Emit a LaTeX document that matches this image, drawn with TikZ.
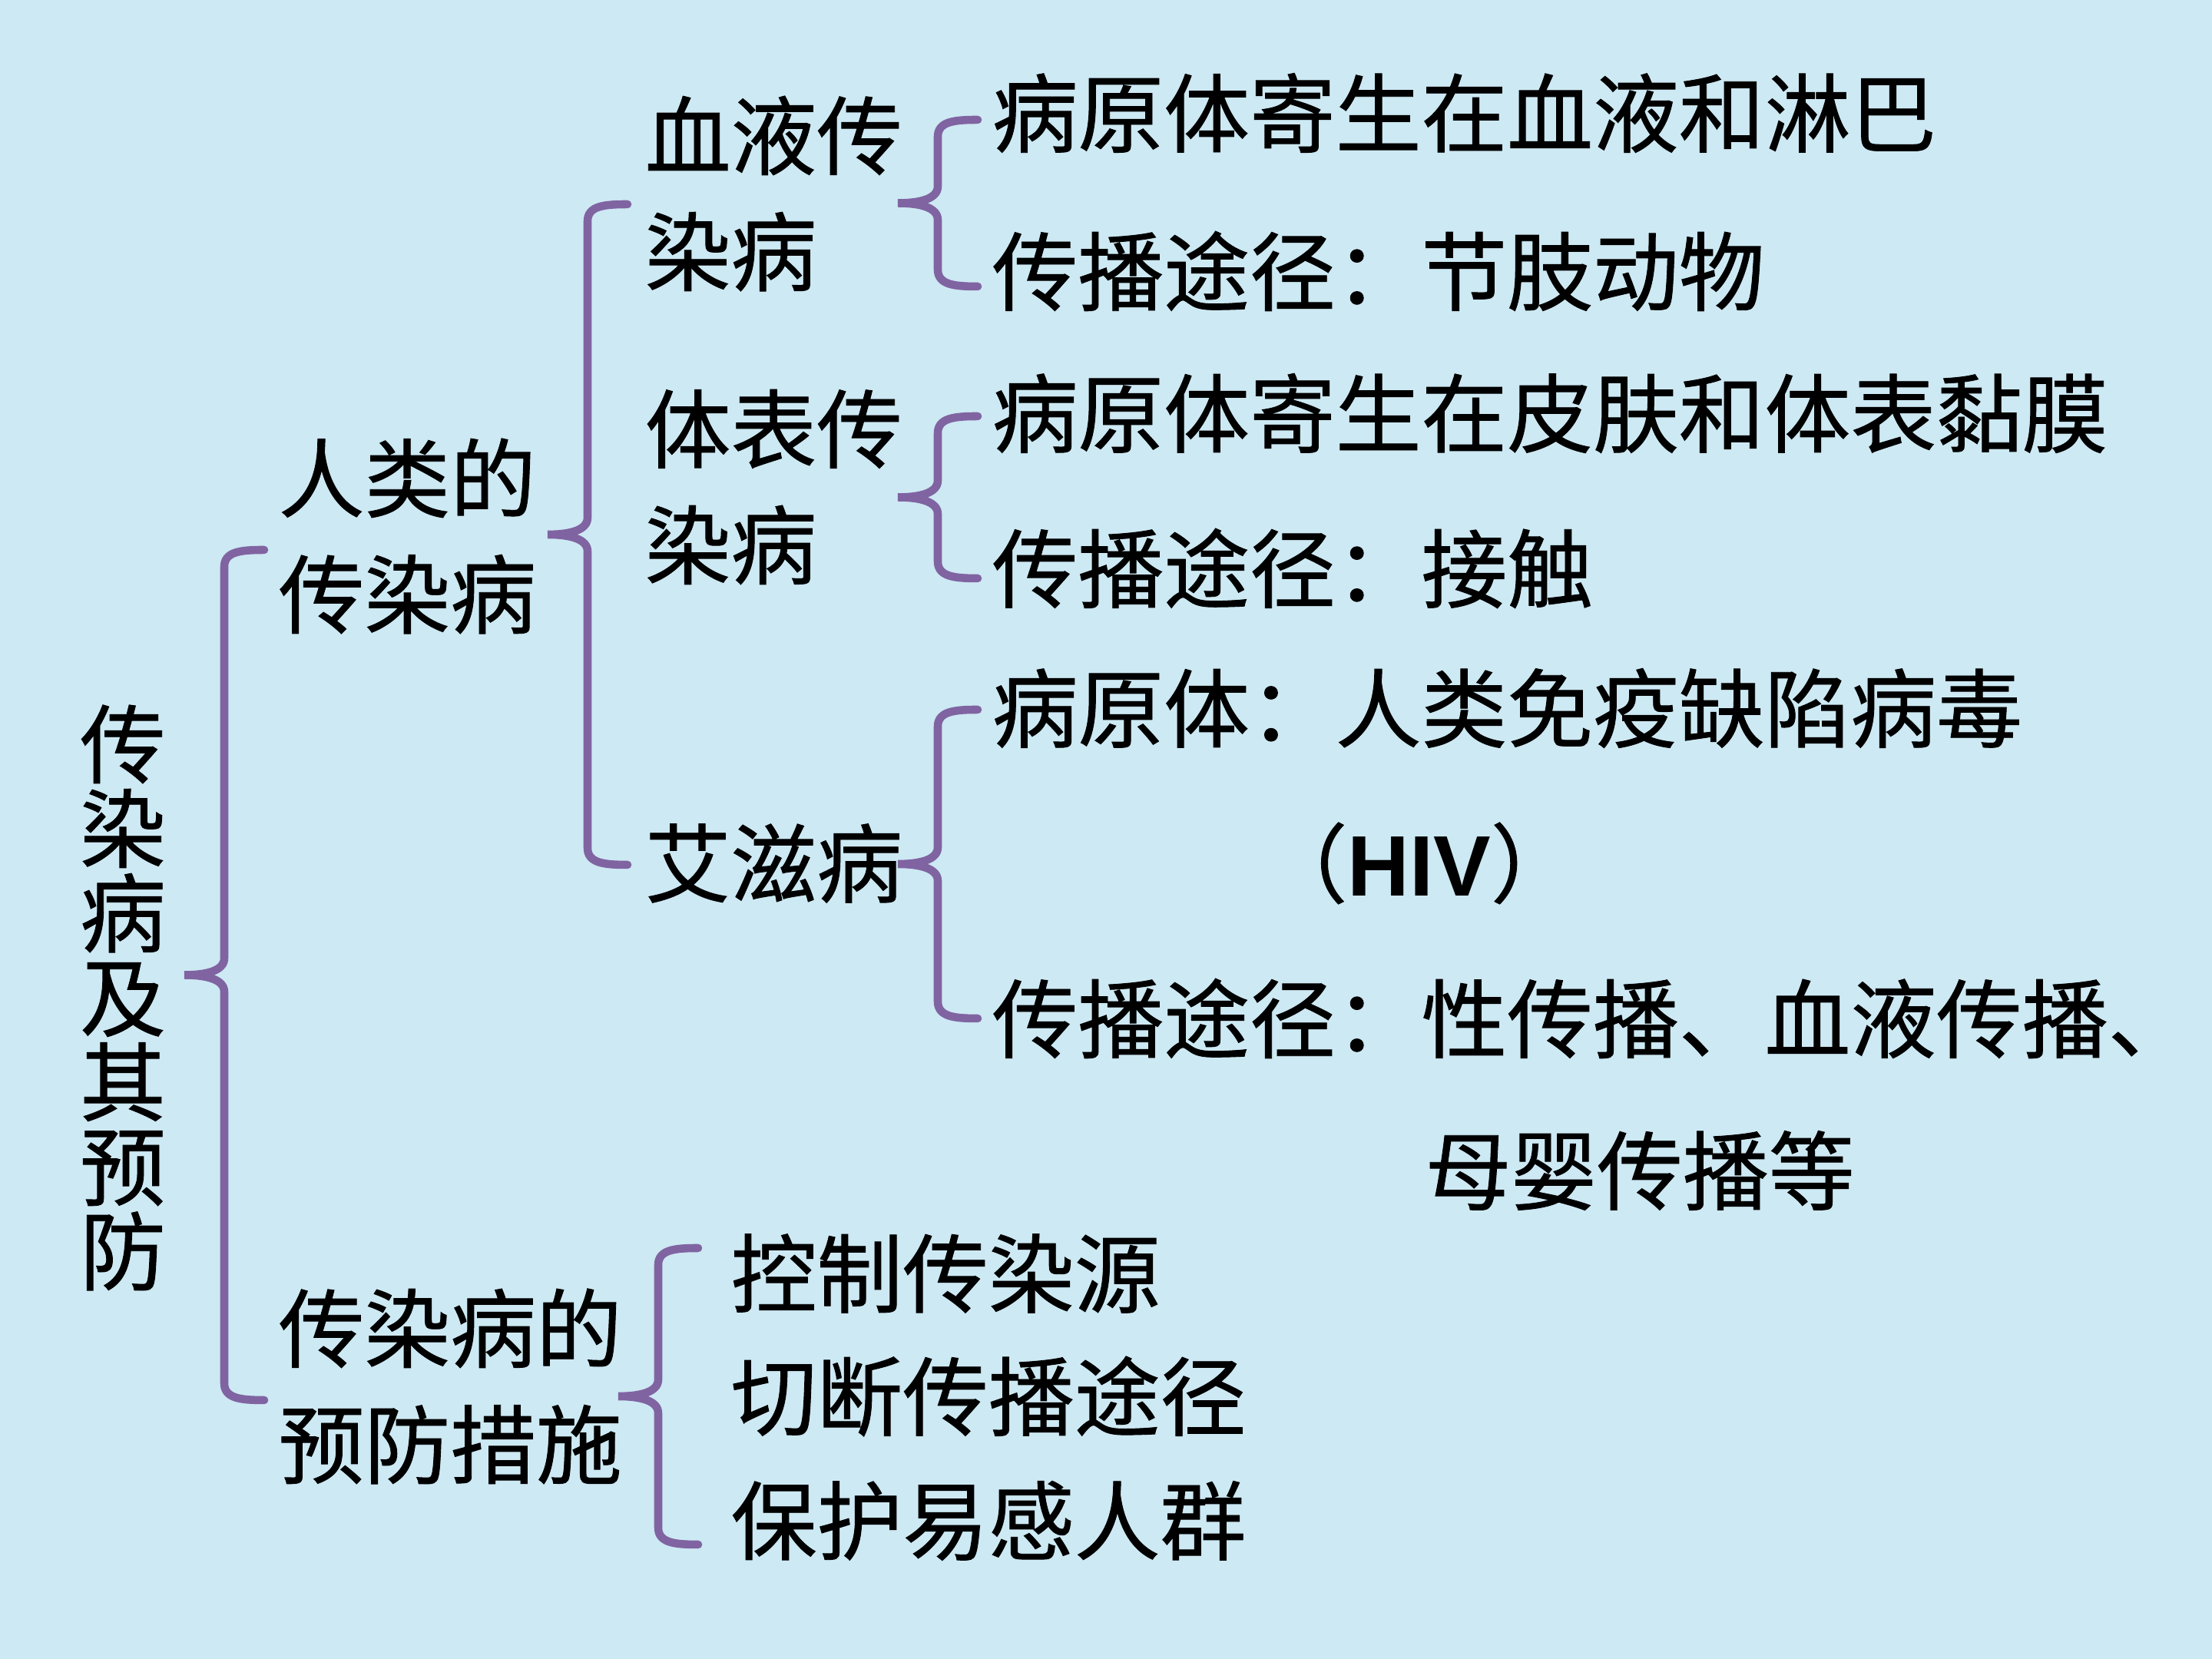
\documentclass[tikz,border=0pt]{standalone}
\usepackage{fontspec}
\newfontfamily\cjk[FakeBold=0.8]{Noto Sans CJK SC}
\newfontfamily\hivfont{Liberation Sans}
\usetikzlibrary{calc}
\definecolor{bgblue}{RGB}{205,233,243}
\definecolor{brkpurple}{RGB}{128,100,162}
\tikzset{
  lbl/.style={font=\cjk\fontsize{31.8}{43}\selectfont, inner sep=0pt, anchor=west, align=left},
  brk/.style={draw=brkpurple, line width=3pt, line cap=round},
}
\newcommand{\curlybrk}[2]{%
  \draw[brk] (#1) .. controls +(-0.3,0) and +(0,0.2) .. ++(-0.52,-0.22)
    -- ($(#1)!0.5!(#2)+(-0.52,0.22)$) .. controls +(0,-0.16) and +(0.3,0) .. ++(-0.52,-0.22)
    .. controls +(0.3,0) and +(0,0.16) .. ++(0.52,-0.22)
    -- ($(#2)+(-0.52,0.22)$) .. controls +(0,-0.2) and +(-0.3,0) .. (#2);}

\begin{document}
\begin{tikzpicture}
\fill[bgblue] (0,0) rectangle (28.8,21.6);
\useasboundingbox (0,0) rectangle (28.8,21.6);

\node[lbl,anchor=center,align=center,font=\cjk\fontsize{31.8}{31.3}\selectfont] (title) at (1.6,8.61) {传\\染\\病\\及\\其\\预\\防};

\node[lbl] (human) at (3.62,14.62) {人类的\\传染病};
\node[lbl] (prevent) at (3.62,3.55) {传染病的\\预防措施};

\node[lbl] (blood) at (8.39,19.08) {血液传\\染病};
\node[lbl] (skin) at (8.39,15.26) {体表传\\染病};
\node[lbl] (aids) at (8.39,10.36) {艾滋病};
\node[lbl] (ctrl) at (9.51,5.02) {控制传染源};
\node[lbl] (cut) at (9.51,3.42) {切断传播途径};
\node[lbl] (protect) at (9.51,1.80) {保护易感人群};

\node[lbl] (bloodhost) at (12.91,20.13) {病原体寄生在血液和淋巴};
\node[lbl] (bloodway) at (12.91,18.07) {传播途径：节肢动物};
\node[lbl] (skinhost) at (12.91,16.22) {病原体寄生在皮肤和体表黏膜};
\node[lbl] (skinway) at (12.91,14.20) {传播途径：接触};
\node[lbl] (aidshost) at (12.91,12.38) {病原体：人类免疫缺陷病毒};
\node[lbl] (hiv) at (16.42,10.36) {（{\hivfont\bfseries HIV}）};
\node[lbl] (aidsway) at (12.91,8.34) {传播途径：性传播、血液传播、};
\node[lbl] (aidsway2) at (18.55,6.36) {母婴传播等};

\coordinate (m1) at ([xshift=-0.18cm,yshift=-0.18cm]human.west);
\coordinate (m2) at ([xshift=-0.18cm,yshift=-0.18cm]prevent.west);
\coordinate (h1) at ([xshift=-0.22cm,yshift=-0.14cm]blood.west);
\coordinate (h2) at ([xshift=-0.22cm,yshift=-0.02cm]aids.west);
\coordinate (p1) at ([xshift=-0.42cm,yshift=0.33cm]ctrl.west);
\coordinate (p2) at ([xshift=-0.42cm,yshift=-0.31cm]protect.west);
\coordinate (b1) at ([xshift=-0.18cm,yshift=-0.09cm]bloodhost.west);
\coordinate (b2) at ([xshift=-0.18cm,yshift=-0.2cm]bloodway.west);
\coordinate (s1) at ([xshift=-0.18cm,yshift=-0.04cm]skinhost.west);
\coordinate (s2) at ([xshift=-0.18cm,yshift=-0.13cm]skinway.west);
\coordinate (a1) at ([xshift=-0.18cm,yshift=-0.02cm]aidshost.west);
\coordinate (a2) at ([xshift=-0.18cm]aidsway.west);

\curlybrk{m1}{m2}
\curlybrk{h1}{h2}
\curlybrk{p1}{p2}
\curlybrk{b1}{b2}
\curlybrk{s1}{s2}
\curlybrk{a1}{a2}
\end{tikzpicture}
\end{document}
